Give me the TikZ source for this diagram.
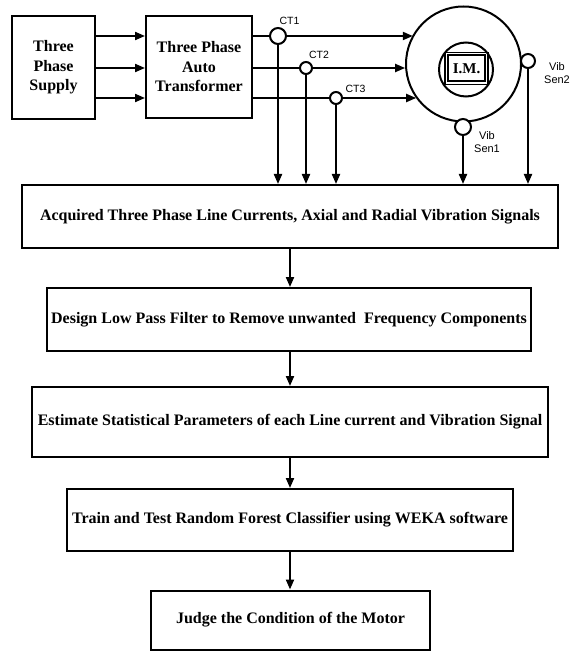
\documentclass[tikz,border=0pt]{standalone}
\usepackage{fontspec}
\setmainfont{Liberation Serif}
\newfontfamily\labfont{Liberation Sans}
\usetikzlibrary{arrows.meta}
\begin{document}
\begin{tikzpicture}[x=1pt,y=-1pt,
  box/.style={draw, line width=2pt, inner sep=0pt, font=\bfseries\fontsize{16}{19.5}\selectfont, align=center},
  wire/.style={line width=2pt},
  arr/.style={line width=2pt, -{Triangle[length=10pt,width=8pt]}},
  sens/.style={circle, draw, line width=2pt, fill=white, inner sep=0pt},
  lbl/.style={font=\labfont\fontsize{10.5}{13}\selectfont, align=center, inner sep=0pt}]
\useasboundingbox (0,0) rectangle (570,652);
\coordinate (y1) at (0,36);
\coordinate (y2) at (0,68);
\coordinate (y3) at (0,98);
% top boxes
\node[box, minimum width=83pt, minimum height=103pt] (sup) at (53.5,67.5) {Three\\Phase\\Supply};
\node[box, minimum width=106pt, minimum height=102pt] (tr) at (199,67) {Three Phase\\Auto\\Transformer};
\draw[arr] (sup.east |- y1) -- (tr.west |- y1);
\draw[arr] (sup.east |- y2) -- (tr.west |- y2);
\draw[arr] (sup.east |- y3) -- (tr.west |- y3);
% motor
\node[circle, draw, line width=2pt, minimum size=115pt, inner sep=0pt] (mot) at (463.5,64) {};
\node[circle, draw, line width=2pt, minimum size=54pt, inner sep=0pt] (inn) at (466,69.5) {};
\node[draw, line width=1.2pt, minimum width=43pt, minimum height=32pt, inner sep=0pt] (imo) at (466.5,68.5) {};
\node[draw, line width=2pt, minimum width=37pt, minimum height=26pt, inner sep=0pt, font=\bfseries\fontsize{15}{18}\selectfont] (im) at (466.5,68.5) {I.M.};
% lower boxes
\node[box, minimum width=536pt, minimum height=63pt] (b1) at (290,216.5) {Acquired Three Phase Line Currents, Axial and Radial Vibration Signals};
\node[box, minimum width=484pt, minimum height=63pt] (b2) at (289,319.5) {Design Low Pass Filter to Remove unwanted~ Frequency Components};
\node[box, minimum width=516pt, minimum height=70pt] (b3) at (290,422) {Estimate Statistical Parameters of each Line current and Vibration Signal};
\node[box, minimum width=446pt, minimum height=62pt] (b4) at (290,520) {Train and Test Random Forest Classifier using WEKA software};
\node[box, minimum width=279pt, minimum height=59pt] (b5) at (290.5,620) {Judge the Condition of the Motor};
% current transformers
\node[sens, minimum size=16pt] (ct1) at (278,36) {};
\node[sens, minimum size=12pt] (ct2) at (306,68) {};
\node[sens, minimum size=12pt] (ct3) at (336,98) {};
\draw[wire] (tr.east |- y1) -- (ct1.west);
\draw[wire] (tr.east |- y2) -- (ct2.west);
\draw[wire] (tr.east |- y3) -- (ct3.west);
\draw[arr] (ct1.east) -- (ct1.east -| mot.150.9);
\draw[arr] (ct2.east) -- (ct2.east -| mot.184);
\draw[arr] (ct3.east) -- (ct3.east -| mot.216.3);
\draw[arr] (ct1.south) -- (ct1.south |- b1.north);
\draw[arr] (ct2.south) -- (ct2.south |- b1.north);
\draw[arr] (ct3.south) -- (ct3.south |- b1.north);
% vibration sensors
\node[sens, minimum size=16pt] (vs1) at (463,127) {};
\node[sens, minimum size=14pt] (vs2) at (528,61) {};
\draw[arr] (vs1.south) -- (vs1.south |- b1.north);
\draw[arr] (vs2.south) -- (vs2.south |- b1.north);
% labels
\node[lbl] (l1) at (289.5,21) {CT1};
\node[lbl] (l2) at (319,55) {CT2};
\node[lbl] (l3) at (355.5,89) {CT3};
\node[lbl, font=\labfont\fontsize{11}{13}\selectfont] (l4) at (487,142.5) {Vib\\Sen1};
\node[lbl, font=\labfont\fontsize{11}{13}\selectfont] (l5) at (557,73.5) {Vib\\Sen2};
% flow arrows
\draw[arr] (b1.south) -- (b1.south |- b2.north);
\draw[arr] (b2.south -| b1.south) -- (b1.south |- b3.north);
\draw[arr] (b3.south) -- (b3.south |- b4.north);
\draw[arr] (b4.south) -- (b4.south |- b5.north);
\end{tikzpicture}
\end{document}
